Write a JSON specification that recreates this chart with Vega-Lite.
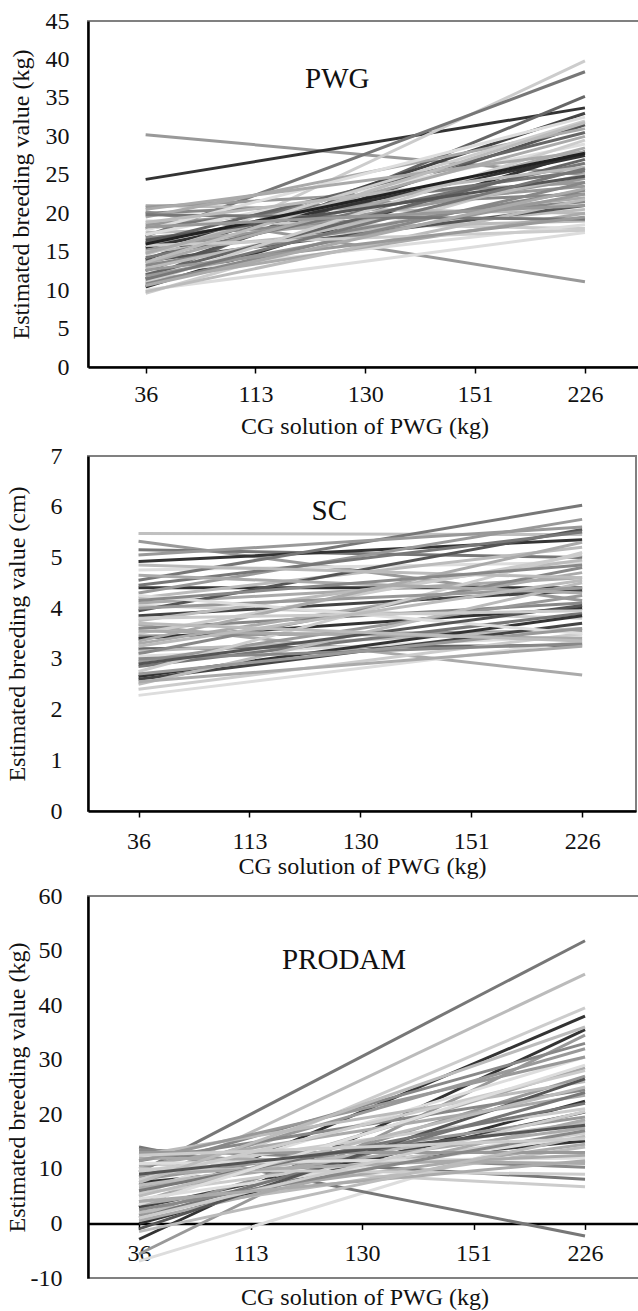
{
  "$schema": "https://vega.github.io/schema/vega-lite/v6.json",
  "background": "white",
  "padding": {"left": 4, "top": 8, "right": 0, "bottom": 0},
  "spacing": 4,
  "config": {
    "font": "Liberation Serif",
    "view": {"stroke": "#808080", "strokeWidth": 2},
    "axis": {
      "labelFont": "Liberation Serif", "titleFont": "Liberation Serif",
      "labelFontSize": 24, "titleFontSize": 24,
      "labelColor": "#111111", "titleColor": "#111111", "titleFontWeight": "normal",
      "grid": false, "domainColor": "#000000", "domainWidth": 2.5, "tickColor": "#000000"
    },
    "axisY": {"ticks": false, "labelPadding": 22},
    "axisX": {"tickSize": 6, "tickWidth": 1.5, "labelPadding": 12, "labelAngle": 0},
    "text": {"font": "Liberation Serif", "color": "#111111"}
  },
  "resolve": {"scale": {"x": "independent", "y": "independent", "color": "independent"}},
  "datasets": {
    "pwg": [
      {"id": "a01", "36": 30.2, "226": 25.0}, {"id": "a02", "36": 24.4, "226": 33.7},
      {"id": "a03", "36": 20.2, "226": 11.1}, {"id": "a04", "36": 13.0, "226": 39.8},
      {"id": "a05", "36": 17.0, "226": 38.4}, {"id": "a06", "36": 11.5, "226": 35.2},
      {"id": "a07", "36": 10.4, "226": 28.0}, {"id": "a08", "36": 12.5, "226": 31.5},
      {"id": "a09", "36": 14.0, "226": 33.0}, {"id": "a10", "36": 9.6, "226": 26.0},
      {"id": "a11", "36": 21.0, "226": 20.0}, {"id": "a12", "36": 20.8, "226": 24.0},
      {"id": "a13", "36": 20.0, "226": 22.5}, {"id": "a14", "36": 19.5, "226": 31.0},
      {"id": "a15", "36": 19.0, "226": 18.0}, {"id": "a16", "36": 18.5, "226": 23.5},
      {"id": "a17", "36": 18.0, "226": 25.5}, {"id": "a18", "36": 17.5, "226": 19.0},
      {"id": "a19", "36": 17.2, "226": 29.0}, {"id": "a20", "36": 16.8, "226": 21.5},
      {"id": "a21", "36": 16.2, "226": 30.5}, {"id": "a22", "36": 16.0, "226": 22.0},
      {"id": "a23", "36": 15.5, "226": 27.5}, {"id": "a24", "36": 15.2, "226": 24.5},
      {"id": "a25", "36": 15.0, "226": 20.5}, {"id": "a26", "36": 14.6, "226": 32.0},
      {"id": "a27", "36": 14.2, "226": 26.5}, {"id": "a28", "36": 13.8, "226": 21.0},
      {"id": "a29", "36": 13.5, "226": 28.5}, {"id": "a30", "36": 13.2, "226": 23.0},
      {"id": "a31", "36": 12.8, "226": 25.0}, {"id": "a32", "36": 12.2, "226": 18.5},
      {"id": "a33", "36": 12.0, "226": 27.0}, {"id": "a34", "36": 11.8, "226": 22.5},
      {"id": "a35", "36": 11.2, "226": 20.0}, {"id": "a36", "36": 11.0, "226": 29.5},
      {"id": "a37", "36": 10.8, "226": 24.0}, {"id": "a38", "36": 10.0, "226": 17.5},
      {"id": "a39", "36": 9.8, "226": 21.8}, {"id": "a40", "36": 17.8, "226": 32.5},
      {"id": "a41", "36": 19.8, "226": 19.2}, {"id": "a42", "36": 15.8, "226": 17.8},
      {"id": "a43", "36": 14.8, "226": 30.0}, {"id": "a44", "36": 18.8, "226": 26.0},
      {"id": "a45", "36": 16.5, "226": 24.8}, {"id": "a46", "36": 12.6, "226": 19.5},
      {"id": "a47", "36": 20.5, "226": 28.0}, {"id": "a48", "36": 13.6, "226": 31.8},
      {"id": "a49", "36": 11.4, "226": 25.8}, {"id": "a50", "36": 16.0, "226": 27.8},
      {"id": "a51", "36": 18.2, "226": 21.0}, {"id": "a52", "36": 10.6, "226": 23.2}
    ],
    "sc": [
      {"id": "b01", "36": 5.47, "226": 5.45}, {"id": "b02", "36": 5.32, "226": 4.15},
      {"id": "b03", "36": 5.15, "226": 5.0}, {"id": "b04", "36": 4.92, "226": 5.35},
      {"id": "b05", "36": 4.75, "226": 4.9}, {"id": "b06", "36": 4.55, "226": 6.03},
      {"id": "b07", "36": 4.4, "226": 4.4}, {"id": "b08", "36": 4.3, "226": 5.75},
      {"id": "b09", "36": 4.2, "226": 5.2}, {"id": "b10", "36": 4.1, "226": 4.6},
      {"id": "b11", "36": 4.05, "226": 3.8}, {"id": "b12", "36": 3.95, "226": 5.55},
      {"id": "b13", "36": 3.85, "226": 4.35}, {"id": "b14", "36": 3.75, "226": 4.95},
      {"id": "b15", "36": 3.67, "226": 2.68}, {"id": "b16", "36": 3.6, "226": 4.1},
      {"id": "b17", "36": 3.5, "226": 5.05}, {"id": "b18", "36": 3.45, "226": 3.55},
      {"id": "b19", "36": 3.4, "226": 4.0}, {"id": "b20", "36": 3.3, "226": 4.7},
      {"id": "b21", "36": 3.2, "226": 3.27}, {"id": "b22", "36": 3.15, "226": 3.6},
      {"id": "b23", "36": 3.1, "226": 4.8}, {"id": "b24", "36": 3.05, "226": 3.45},
      {"id": "b25", "36": 2.95, "226": 4.25}, {"id": "b26", "36": 2.85, "226": 3.9},
      {"id": "b27", "36": 2.75, "226": 5.1}, {"id": "b28", "36": 2.65, "226": 3.85},
      {"id": "b29", "36": 2.6, "226": 3.7}, {"id": "b30", "36": 2.5, "226": 4.5},
      {"id": "b31", "36": 2.4, "226": 3.5}, {"id": "b32", "36": 2.28, "226": 3.35},
      {"id": "b33", "36": 4.45, "226": 5.5}, {"id": "b34", "36": 4.0, "226": 4.4},
      {"id": "b35", "36": 3.55, "226": 3.4}, {"id": "b36", "36": 3.0, "226": 3.3},
      {"id": "b37", "36": 4.85, "226": 4.6}, {"id": "b38", "36": 4.25, "226": 3.5},
      {"id": "b39", "36": 3.35, "226": 5.3}, {"id": "b40", "36": 2.9, "226": 4.05},
      {"id": "b41", "36": 3.8, "226": 3.95}, {"id": "b42", "36": 4.65, "226": 4.3},
      {"id": "b43", "36": 5.05, "226": 5.6}, {"id": "b44", "36": 3.25, "226": 4.55},
      {"id": "b45", "36": 2.7, "226": 3.6}, {"id": "b46", "36": 4.15, "226": 4.85},
      {"id": "b47", "36": 3.7, "226": 3.35}, {"id": "b48", "36": 2.55, "226": 3.25}
    ],
    "prodam": [
      {"id": "c01", "36": 9.4, "226": 51.8}, {"id": "c02", "36": 7.0, "226": 45.7},
      {"id": "c03", "36": 5.0, "226": 39.5}, {"id": "c04", "36": 3.0, "226": 38.0},
      {"id": "c05", "36": -2.9, "226": 35.5}, {"id": "c06", "36": -5.6, "226": 34.5},
      {"id": "c07", "36": -6.9, "226": 18.0}, {"id": "c08", "36": 14.0, "226": -2.3},
      {"id": "c09", "36": 13.5, "226": 10.3}, {"id": "c10", "36": 0.0, "226": 22.4},
      {"id": "c11", "36": 2.9, "226": 20.4}, {"id": "c12", "36": 7.5, "226": 15.1},
      {"id": "c13", "36": 11.0, "226": 6.7}, {"id": "c14", "36": 12.8, "226": 8.1},
      {"id": "c15", "36": 10.0, "226": 33.0}, {"id": "c16", "36": 8.5, "226": 32.0},
      {"id": "c17", "36": 6.0, "226": 30.5}, {"id": "c18", "36": 4.0, "226": 28.5},
      {"id": "c19", "36": 1.5, "226": 27.0}, {"id": "c20", "36": 12.5, "226": 26.0},
      {"id": "c21", "36": 11.5, "226": 24.5}, {"id": "c22", "36": 10.5, "226": 23.5},
      {"id": "c23", "36": 9.5, "226": 21.0}, {"id": "c24", "36": 8.0, "226": 19.5},
      {"id": "c25", "36": 7.0, "226": 18.5}, {"id": "c26", "36": 6.5, "226": 17.5},
      {"id": "c27", "36": 5.5, "226": 16.5}, {"id": "c28", "36": 4.5, "226": 16.0},
      {"id": "c29", "36": 3.5, "226": 14.5}, {"id": "c30", "36": 2.0, "226": 14.0},
      {"id": "c31", "36": 1.0, "226": 24.0}, {"id": "c32", "36": 0.5, "226": 19.0},
      {"id": "c33", "36": -1.0, "226": 26.5}, {"id": "c34", "36": 13.0, "226": 13.0},
      {"id": "c35", "36": 12.0, "226": 11.0}, {"id": "c36", "36": 11.0, "226": 12.0},
      {"id": "c37", "36": 10.0, "226": 9.0}, {"id": "c38", "36": 9.0, "226": 12.5},
      {"id": "c39", "36": 8.0, "226": 28.0}, {"id": "c40", "36": 6.0, "226": 22.0},
      {"id": "c41", "36": 5.0, "226": 25.0}, {"id": "c42", "36": 3.5, "226": 29.0},
      {"id": "c43", "36": 2.5, "226": 17.0}, {"id": "c44", "36": 1.0, "226": 20.5},
      {"id": "c45", "36": 11.5, "226": 30.5}, {"id": "c46", "36": 7.5, "226": 36.0},
      {"id": "c47", "36": 9.0, "226": 18.0}, {"id": "c48", "36": 4.0, "226": 11.5},
      {"id": "c49", "36": -1.5, "226": 16.0}, {"id": "c50", "36": 12.5, "226": 15.5}
    ]
  },
  "vconcat": [
    {
      "width": 553, "height": 346,
      "layer": [
        {
          "data": {"name": "pwg"},
          "transform": [{"fold": ["36", "226"], "as": ["cg", "v"]}],
          "mark": {"type": "line", "strokeWidth": 3},
          "encoding": {
            "x": {"field": "cg", "type": "ordinal", "sort": null,
                  "scale": {"type": "point", "padding": 0.5176, "align": 0.507, "domain": ["36", "113", "130", "151", "226"]},
                  "axis": {"title": "CG solution of PWG (kg)", "labelPadding": 9, "titlePadding": 8}},
            "y": {"field": "v", "type": "quantitative",
                  "scale": {"domain": [0, 45], "nice": false, "zero": false},
                  "axis": {"title": "Estimated breeding value (kg)", "tickCount": 9, "labelOverlap": false, "labelPadding": 19, "titlePadding": 12}},
            "color": {"field": "id", "type": "nominal", "legend": null,
                      "scale": {"range": ["#999999","#333333","#999999","#cccccc","#777777","#666666","#333333","#555555","#444444","#cccccc","#bbbbbb","#999999","#888888","#aaaaaa","#cccccc","#999999","#777777","#bbbbbb","#dddddd","#888888","#666666","#aaaaaa","#333333","#999999","#bbbbbb","#cccccc","#777777","#555555","#aaaaaa","#888888","#bbbbbb","#dddddd","#666666","#999999","#aaaaaa","#cccccc","#888888","#dddddd","#bbbbbb","#dddddd","#777777","#cccccc","#aaaaaa","#bbbbbb","#555555","#999999","#aaaaaa","#bbbbbb","#777777","#222222","#999999","#aaaaaa"]}}
          }
        },
        {
          "data": {"values": [{"cg": "130", "v": 36.3, "label": "PWG"}]},
          "mark": {"type": "text", "fontSize": 29, "align": "center", "baseline": "alphabetic", "dx": -28},
          "encoding": {
            "x": {"field": "cg", "type": "ordinal"},
            "y": {"field": "v", "type": "quantitative"},
            "text": {"field": "label"}
          }
        }
      ]
    },
    {
      "width": 548, "height": 355,
      "layer": [
        {
          "data": {"name": "sc"},
          "transform": [{"fold": ["36", "226"], "as": ["cg", "v"]}],
          "mark": {"type": "line", "strokeWidth": 3},
          "encoding": {
            "x": {"field": "cg", "type": "ordinal", "sort": null,
                  "scale": {"type": "point", "padding": 0.4707, "align": 0.484, "domain": ["36", "113", "130", "151", "226"]},
                  "axis": {"title": "CG solution of PWG (kg)", "labelPadding": 12, "titlePadding": 1}},
            "y": {"field": "v", "type": "quantitative",
                  "scale": {"domain": [0, 7], "nice": false, "zero": false},
                  "axis": {"title": "Estimated breeding value (cm)", "tickCount": 7, "labelOverlap": false, "labelPadding": 26, "titlePadding": 21}},
            "color": {"field": "id", "type": "nominal", "legend": null,
                      "scale": {"range": ["#c0c0c0","#999999","#777777","#333333","#dddddd","#777777","#333333","#999999","#bbbbbb","#aaaaaa","#cccccc","#555555","#444444","#bbbbbb","#aaaaaa","#888888","#cccccc","#999999","#333333","#aaaaaa","#666666","#bbbbbb","#888888","#dddddd","#999999","#777777","#cccccc","#333333","#444444","#bbbbbb","#cccccc","#dddddd","#777777","#999999","#aaaaaa","#888888","#bbbbbb","#dddddd","#aaaaaa","#555555","#cccccc","#aaaaaa","#999999","#bbbbbb","#999999","#888888","#bbbbbb","#aaaaaa"]}}
          }
        },
        {
          "data": {"values": [{"cg": "130", "v": 5.74, "label": "SC"}]},
          "mark": {"type": "text", "fontSize": 29, "align": "center", "baseline": "alphabetic", "dx": -31},
          "encoding": {
            "x": {"field": "cg", "type": "ordinal"},
            "y": {"field": "v", "type": "quantitative"},
            "text": {"field": "label"}
          }
        }
      ]
    },
    {
      "width": 553, "height": 382,
      "layer": [
        {
          "data": {"name": "prodam"},
          "transform": [{"fold": ["36", "226"], "as": ["cg", "v"]}],
          "mark": {"type": "line", "strokeWidth": 3},
          "encoding": {
            "x": {"field": "cg", "type": "ordinal", "sort": null,
                  "scale": {"type": "point", "padding": 0.48, "align": 0.477, "domain": ["36", "113", "130", "151", "226"]},
                  "axis": {"title": "CG solution of PWG (kg)", "offset": -54.6, "labelPadding": 12, "titlePadding": 20}},
            "y": {"field": "v", "type": "quantitative",
                  "scale": {"domain": [-10, 60], "nice": false, "zero": false},
                  "axis": {"title": "Estimated breeding value (kg)", "tickCount": 7, "labelOverlap": false, "labelExpr": "toString(datum.value)", "labelPadding": 26, "titlePadding": 1}},
            "color": {"field": "id", "type": "nominal", "legend": null,
                      "scale": {"range": ["#777777","#bbbbbb","#cccccc","#333333","#333333","#999999","#dddddd","#777777","#888888","#333333","#444444","#333333","#cccccc","#777777","#888888","#999999","#dddddd","#aaaaaa","#999999","#bbbbbb","#888888","#aaaaaa","#cccccc","#999999","#bbbbbb","#aaaaaa","#cccccc","#dddddd","#aaaaaa","#bbbbbb","#777777","#aaaaaa","#555555","#999999","#aaaaaa","#dddddd","#cccccc","#aaaaaa","#cccccc","#777777","#bbbbbb","#dddddd","#888888","#cccccc","#999999","#bbbbbb","#555555","#aaaaaa","#bbbbbb","#cccccc"]}}
          }
        },
        {
          "data": {"values": [{"cg": "130", "v": 46.6, "label": "PRODAM"}]},
          "mark": {"type": "text", "fontSize": 29, "align": "center", "baseline": "alphabetic", "dx": -18},
          "encoding": {
            "x": {"field": "cg", "type": "ordinal"},
            "y": {"field": "v", "type": "quantitative"},
            "text": {"field": "label"}
          }
        }
      ]
    }
  ]
}
